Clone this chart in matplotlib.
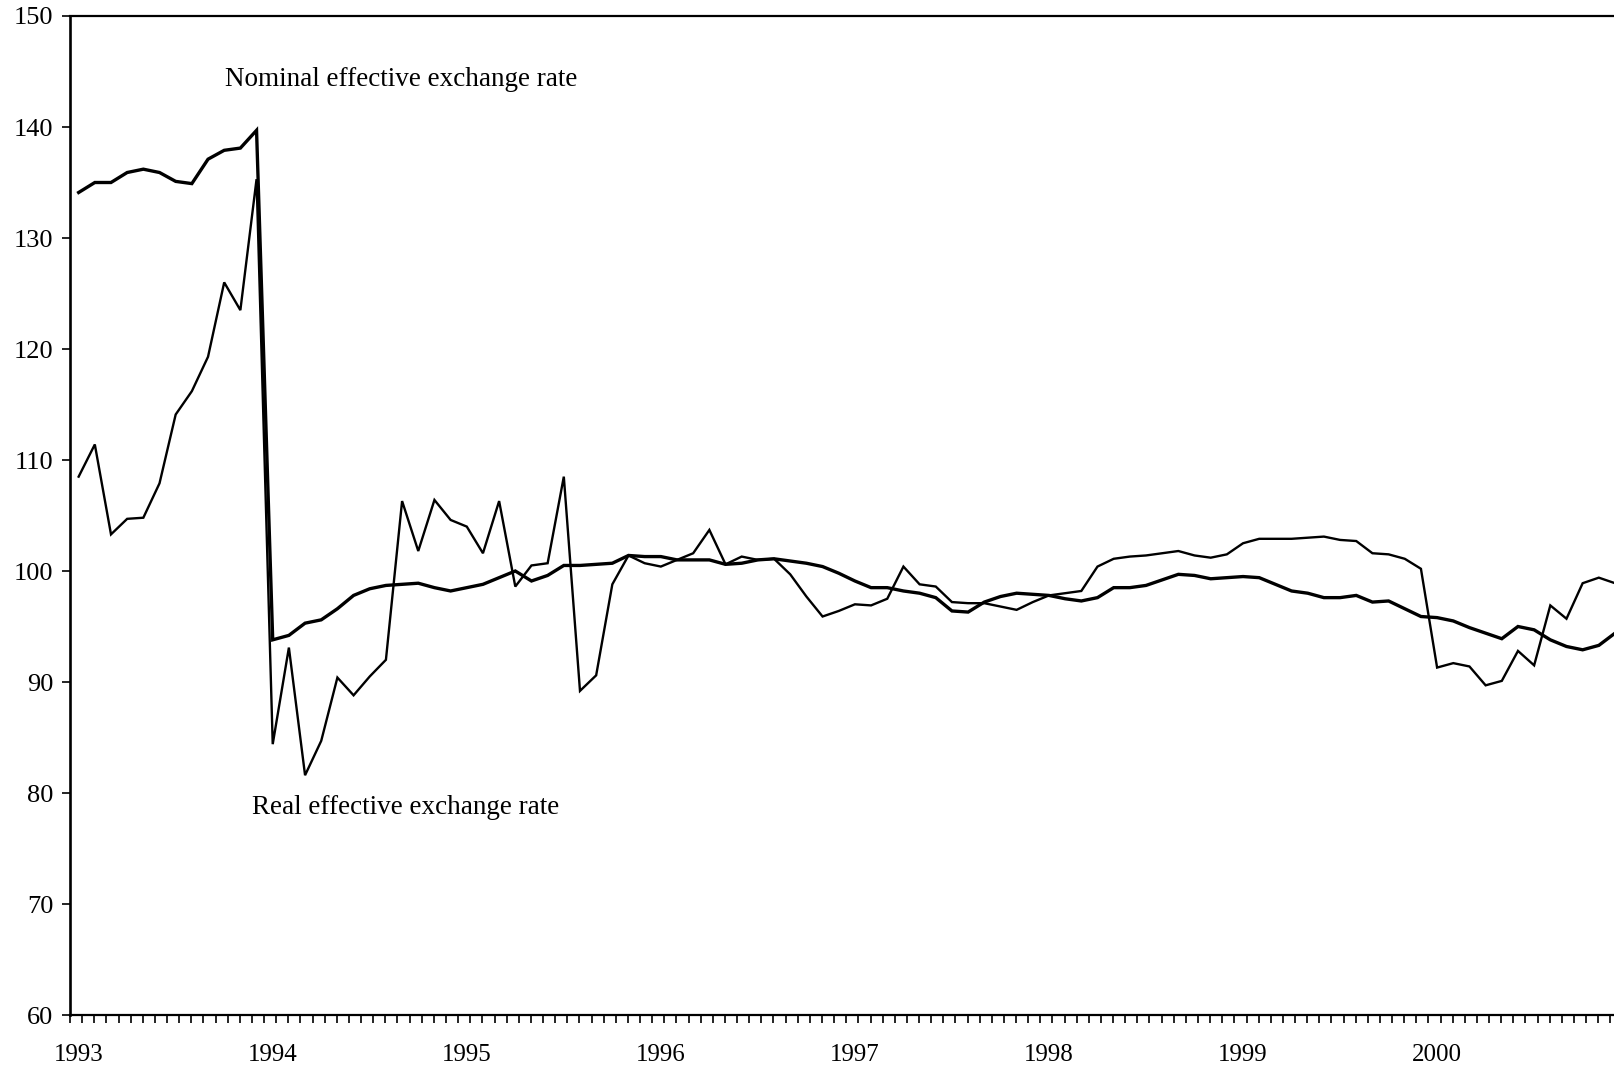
import matplotlib
matplotlib.use("Agg")
import matplotlib.pyplot as plt
import numpy as np

plt.rcParams['font.family'] = ['Liberation Serif', 'DejaVu Serif']

# Monthly data, Jan 1993 - Dec 2000
years = [1993, 1994, 1995, 1996, 1997, 1998, 1999, 2000]

nominal = [
    134.1, 135.0, 135.0, 135.9, 136.2, 135.9, 135.1, 134.9, 137.1, 137.9, 138.1, 139.7,  # 1993
    93.8, 94.2, 95.3, 95.6, 96.6, 97.8, 98.4, 98.7, 98.8, 98.9, 98.5, 98.2,              # 1994
    98.5, 98.8, 99.4, 100.0, 99.1, 99.6, 100.5, 100.5, 100.6, 100.7, 101.4, 101.3,        # 1995
    101.3, 101.0, 101.0, 101.0, 100.6, 100.7, 101.0, 101.1, 100.9, 100.7, 100.4, 99.8,    # 1996
    99.1, 98.5, 98.5, 98.2, 98.0, 97.6, 96.4, 96.3, 97.2, 97.7, 98.0, 97.9,              # 1997
    97.8, 97.5, 97.3, 97.6, 98.5, 98.5, 98.7, 99.2, 99.7, 99.6, 99.3, 99.4,              # 1998
    99.5, 99.4, 98.8, 98.2, 98.0, 97.6, 97.6, 97.8, 97.2, 97.3, 96.6, 95.9,              # 1999
    95.8, 95.5, 94.9, 94.4, 93.9, 95.0, 94.7, 93.8, 93.2, 92.9, 93.3, 94.4,              # 2000
]

real = [
    108.5, 111.4, 103.3, 104.7, 104.8, 107.9, 114.1, 116.2, 119.3, 126.0, 123.5, 135.3,  # 1993
    84.4, 93.1, 81.6, 84.7, 90.4, 88.8, 90.5, 92.0, 106.3, 101.8, 106.4, 104.6,          # 1994
    104.0, 101.6, 106.3, 98.6, 100.5, 100.7, 108.5, 89.2, 90.6, 98.8, 101.4, 100.7,      # 1995
    100.4, 101.0, 101.6, 103.7, 100.6, 101.3, 101.0, 101.1, 99.7, 97.7, 95.9, 96.4,      # 1996
    97.0, 96.9, 97.5, 100.4, 98.8, 98.6, 97.2, 97.1, 97.1, 96.8, 96.5, 97.2,             # 1997
    97.8, 98.0, 98.2, 100.4, 101.1, 101.3, 101.4, 101.6, 101.8, 101.4, 101.2, 101.5,     # 1998
    102.5, 102.9, 102.9, 102.9, 103.0, 103.1, 102.8, 102.7, 101.6, 101.5, 101.1, 100.2,  # 1999
    91.3, 91.7, 91.4, 89.7, 90.1, 92.8, 91.5, 96.9, 95.7, 98.9, 99.4, 98.9,              # 2000
]

year_labels = [str(y) for y in years]
y_ticks = [60, 70, 80, 90, 100, 110, 120, 130, 140, 150]

months = np.arange(len(nominal))

fig = plt.figure(figsize=(16.15, 10.68), dpi=100)
ax = fig.add_axes([70 / 1615, 53 / 1068, 1545 / 1615, 999 / 1068])

ax.plot(months, real, color='black', lw=1.7, solid_joinstyle='miter')
ax.plot(months, nominal, color='black', lw=2.4, solid_joinstyle='miter')

ax.set_xlim(-0.535, 95.0)
ax.set_ylim(60, 150)

# y axis
ax.set_yticks(y_ticks)
ax.set_yticklabels([str(v) for v in y_ticks])
ax.tick_params(axis='y', direction='out', length=6, width=1.2, pad=6,
               labelsize=19, colors='black')

# x axis: year labels at January, small tick marks along axis
ax.set_xticks([12 * k for k in range(len(years))])
ax.set_xticklabels(year_labels)
ax.set_xticks(np.arange(-0.535, 95.0, 0.75), minor=True)
ax.tick_params(axis='x', which='major', length=0, pad=21, labelsize=18)
ax.tick_params(axis='x', which='minor', direction='out', length=6, width=1.2)

ax.spines['right'].set_visible(False)
ax.spines['left'].set_linewidth(1.9)
ax.spines['bottom'].set_linewidth(1.6)
ax.spines['top'].set_linewidth(1.6)

ax.text(9.05, 144.3, 'Nominal effective exchange rate', fontsize=19.5,
        ha='left', va='center')
ax.text(10.7, 78.7, 'Real effective exchange rate', fontsize=19.5,
        ha='left', va='center')

fig.savefig('out.png', dpi=100)
